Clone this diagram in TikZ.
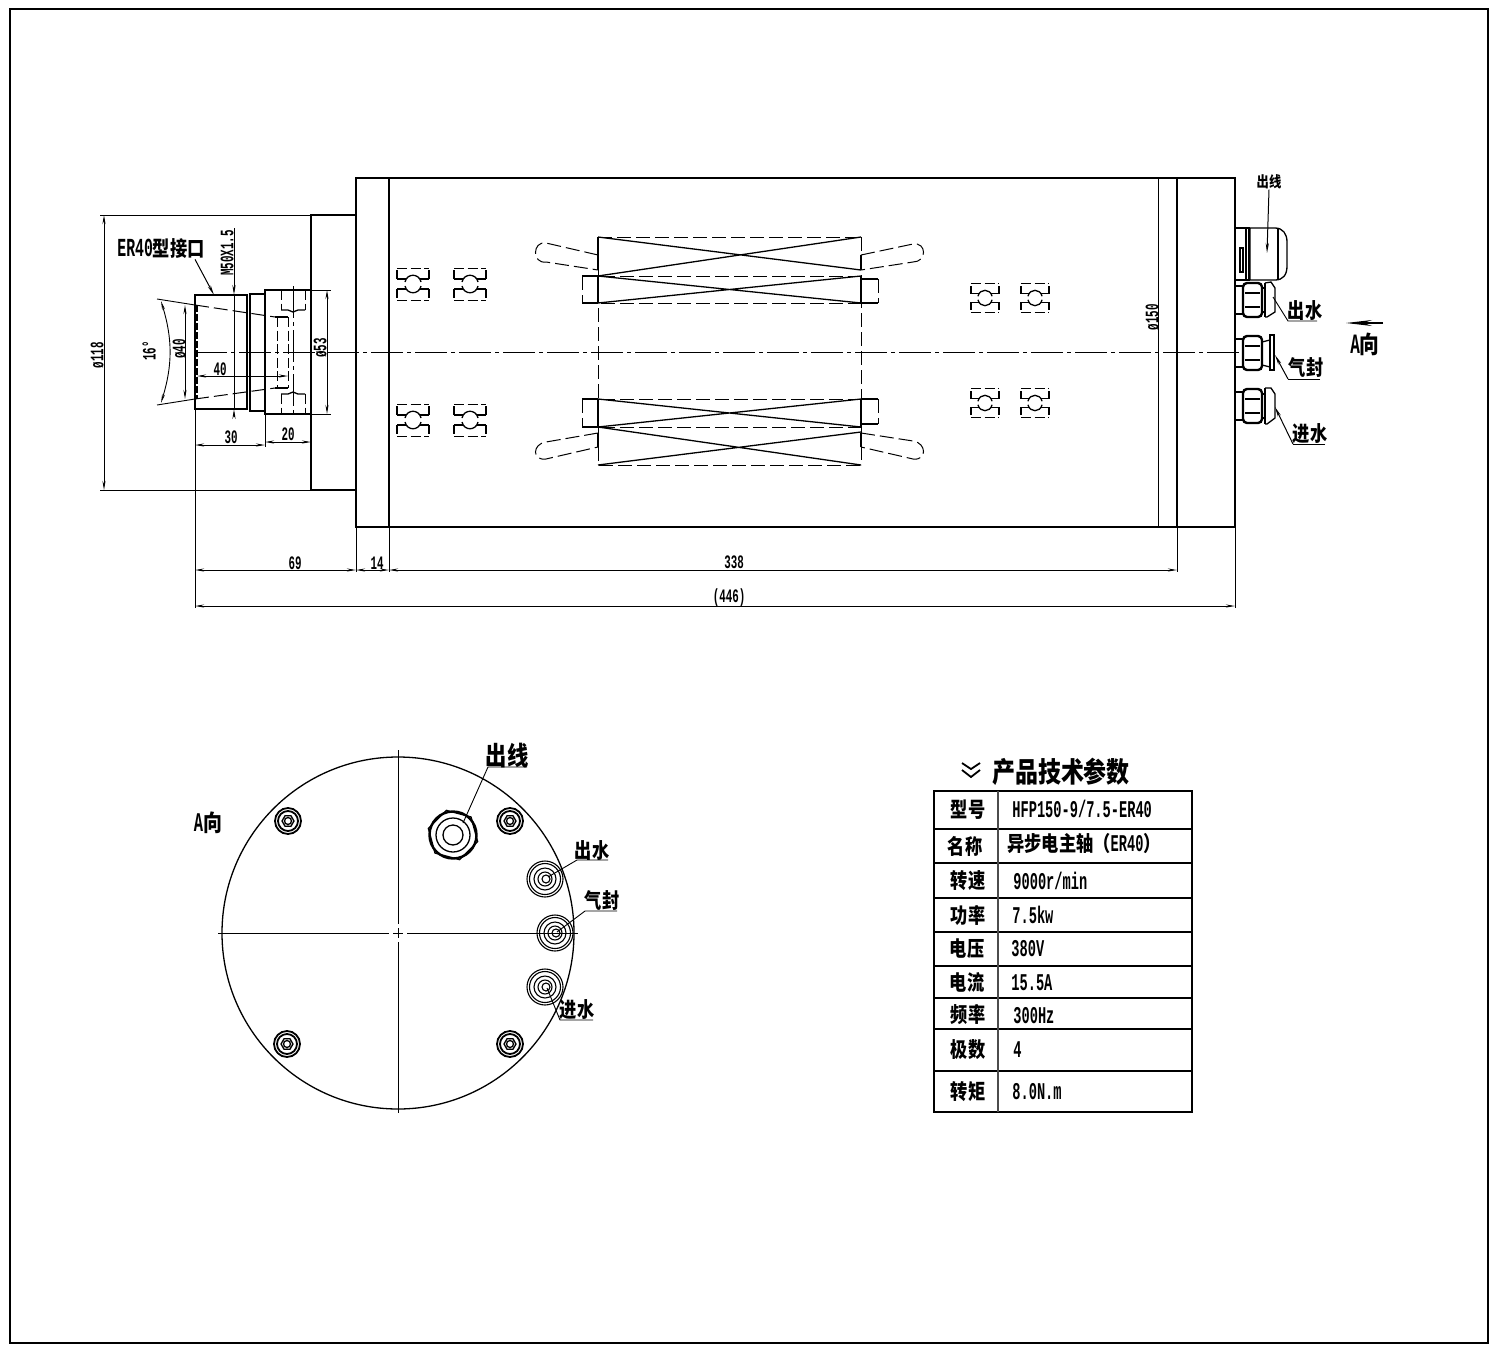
\documentclass[tikz,border=0pt]{standalone}
\usepackage{fontspec}
\usetikzlibrary{arrows.meta}
\newfontfamily\latinf[FakeStretch=0.57]{Liberation Mono}
\newfontfamily\cjk[FakeStretch=0.82]{Noto Sans CJK SC}
\def\dimfont{\latinf\bfseries\fontsize{9.5}{10}\selectfont}
\def\tabfont{\latinf\bfseries\fontsize{12}{13}\selectfont}
\def\zhfont{\cjk\bfseries\fontsize{10.5}{11}\selectfont}
\tikzset{
  part/.style={line width=0.65pt},
  heavy/.style={line width=1.2pt},
  thin line/.style={line width=0.45pt},
  hidden/.style={line width=0.5pt,dash pattern=on 7pt off 2.5pt},
  shorthidden/.style={line width=0.5pt,dash pattern=on 5pt off 1.8pt},
  centre/.style={line width=0.5pt,dash pattern=on 16pt off 2pt on 2pt off 2pt},
  dim/.style={line width=0.45pt,{Stealth[length=4.5pt,width=1.5pt]}-{Stealth[length=4.5pt,width=1.5pt]}},
  leader/.style={line width=0.5pt,-{Stealth[length=5pt,width=1.6pt]}},
  lab/.style={inner sep=0pt,font=\dimfont},
  zh/.style={inner sep=0pt,font=\zhfont},
  tabtxt/.style={inner sep=0pt,font=\tabfont,anchor=west},
}
% bearing symbol
\newcommand{\bearing}[3]{
\draw[shorthidden,shift={(#1,#2)},scale=#3] (-16,-16) -- (16,-16) (-16,16) -- (16,16);
\draw[part,shift={(#1,#2)},scale=#3] (-16,-5) -- (-16,-14) (16,-5) -- (16,-14) (-16,5) -- (-16,14) (16,5) -- (16,14);
\draw[part,shift={(#1,#2)},scale=#3] (-16,-5) -- (-7,-5) (7,-5) -- (16,-5) (-16,5) -- (-7,5) (7,5) -- (16,5);
\draw[part,shift={(#1,#2)},scale=#3] (-8,-2) .. controls (-6,-11) and (6,-11) .. (8,-2) (-8,2) .. controls (-6,11) and (6,11) .. (8,2);
}
% hex bolt on the end cover
\newcommand{\bolt}[2]{
\draw[line width=0.9pt,shift={(#1,#2)}] (0,0) circle (13) (0,0) circle (10);
\draw[part,shift={(#1,#2)}] (0:6) -- (60:6) -- (120:6) -- (180:6) -- (240:6) -- (300:6) -- cycle (0,0) circle (3.5);
}
% port on the end cover
\newcommand{\port}[2]{
\draw[line width=0.55pt,shift={(#1,#2)}] (0,0) circle (18) (0,0) circle (15.5) (0,0) circle (11) (0,0) circle (7) (1,0) circle (4);
}
% water or air fitting, side view
\newcommand{\fitting}[1]{
\draw[part,shift={(1235,#1)}] (0,-14) rectangle (8,14);
\draw[heavy,shift={(1235,#1)},rounded corners=2] (8,-17) rectangle (27,17);
\draw[part,shift={(1235,#1)}] (10,-7) -- (25,-7) (10,7) -- (25,7);
}
\begin{document}
\begin{tikzpicture}[x=0.5pt,y=-0.5pt]
\useasboundingbox (0,0) rectangle (1500,1355);

\draw[line width=1pt] (10,9) rectangle (1488,1343);

% side view
\draw[part] (356,178) rectangle (1235,527);
\draw[part] (389,178) -- (389,527);
\draw[thin line] (1158,178) -- (1158,527);
\draw[part] (1177,178) -- (1177,527);
\draw[part] (356,215) -- (311,215) -- (311,490) -- (356,490);
\draw[centre] (195,352.5) -- (1243,352.5);

% nose
\draw[part] (311,290) -- (265,290) -- (265,414) -- (311,414);
\draw[part] (265,294) -- (250,294) -- (250,411) -- (265,411);
\draw[heavy] (195,295) rectangle (247,409);
\draw[line width=1pt,dash pattern=on 3.5pt off 1pt] (197,305) -- (197,399);
\draw[hidden] (195,305) -- (275,317);
\draw[hidden] (195,399) -- (275,388);
\draw[part] (275,317) -- (288,317) (275,388) -- (288,388);
\draw[shorthidden] (277,317) -- (277,388);
\draw[shorthidden] (288,317) -- (288,388);
\draw[centre] (293,286) -- (293,417);
\draw[shorthidden] (281,290) -- (281,310) (305,290) -- (305,310);
\draw[part] (281,310) -- (288,310) -- (293,312) -- (298,310) -- (305,310);
\draw[shorthidden] (281,394) -- (281,414) (305,394) -- (305,414);
\draw[part] (281,394) -- (288,394) -- (293,392) -- (298,394) -- (305,394);

% nose dimensions
\draw[thin line] (100,215) -- (311,215) (100,490) -- (311,490);
\coordinate (dTop) at (104,215);
\coordinate (dBot) at (104,490);
\draw[dim] (dTop) -- (dBot);
\node[lab,rotate=90] (d118) at (97,355) {ø118};
\draw[thin line] (157,299) -- (195,305) (157,405) -- (195,399);
\coordinate (angA) at (161,301);
\coordinate (angB) at (161,403);
\draw[dim] (angA) to[bend left=17] (angB);
\node[lab,rotate=90] (a16) at (149,351) {16°};
\coordinate (d40a) at (185,305);
\coordinate (d40b) at (185,399);
\draw[dim] (d40a) -- (d40b);
\node[lab,rotate=90] (d40) at (179,349) {ø40};
\coordinate (l40a) at (197,376);
\coordinate (l40b) at (288,376);
\draw[dim] (l40a) -- (l40b);
\node[lab] (l40) at (220,369) {40};
\draw[thin line] (311,290) -- (331,290) (311,414) -- (331,414);
\coordinate (d53a) at (327,290);
\coordinate (d53b) at (327,414);
\draw[dim] (d53a) -- (d53b);
\node[lab,rotate=90] (d53) at (320,348) {ø53};
\draw[thin line] (265,414) -- (265,447);
\coordinate (l30a) at (195,445);
\coordinate (l30b) at (265,445);
\coordinate (l20a) at (265,442);
\coordinate (l20b) at (311,442);
\draw[dim] (l30a) -- (l30b);
\draw[dim] (l20a) -- (l20b);
\node[lab] (l30) at (231,437) {30};
\node[lab] (l20) at (288,434) {20};
\coordinate (mTop) at (234,228);
\coordinate (mIn) at (234,295);
\coordinate (mBot) at (234,417);
\coordinate (mOut) at (234,409);
\draw[leader] (mTop) -- (mIn);
\draw[leader] (mBot) -- (mOut);
\draw[thin line] (mIn) -- (mOut);
\node[lab,rotate=90] (thread) at (227,253) {M50X1.5};
\node[inner sep=0pt] (erLabel) at (161,249) {{\latinf\bfseries\fontsize{13}{14}\selectfont ER40}{\zhfont 型接口}};
\coordinate (erEnd) at (214,295);
\draw[leader] (erLabel.south east) ++(-10,0) -- (erEnd);

% overall dimensions
\draw[thin line] (195,409) -- (195,608);
\draw[thin line] (356,527) -- (356,572) (389,527) -- (389,572) (1177,527) -- (1177,572);
\draw[thin line] (1235,527) -- (1235,608);
\coordinate (o0) at (195,570);
\coordinate (o1) at (356,570);
\coordinate (o2) at (389,570);
\coordinate (o3) at (1177,570);
\coordinate (p0) at (195,606);
\coordinate (p1) at (1235,606);
\draw[dim] (o0) -- (o1);
\draw[dim] (o1) -- (o2);
\draw[dim] (o2) -- (o3);
\draw[dim] (p0) -- (p1);
\node[lab] (l69) at (295,563) {69};
\node[lab] (l14) at (377,563) {14};
\node[lab] (l338) at (734,562) {338};
\node[lab] (l446) at (729,598) {(446)};
\node[lab,rotate=90] (d150) at (1152,317) {ø150};

% bearings
\bearing{413}{284}{1}
\bearing{470}{284}{1}
\bearing{413}{420}{1}
\bearing{470}{420}{1}
\bearing{985}{298}{0.88}
\bearing{1035}{298}{0.88}
\bearing{985}{403}{0.88}
\bearing{1035}{403}{0.88}

% stator and windings
\draw[hidden] (598,237) -- (861,237);
\draw[hidden] (598,270) -- (598,447) (861,237) -- (861,465);
\draw[hidden] (598,447) -- (598,465) -- (861,465);
\draw[part] (598,237) -- (598,255);
\draw[part] (598,237) -- (861,270) (861,237) -- (598,276);
\draw[part] (598,427) -- (861,465) (861,432) -- (598,465);
\draw[part] (598,276) -- (861,303) (861,276) -- (598,303);
\draw[part] (598,399) -- (861,427) (861,399) -- (598,427);
\draw[hidden] (582,276) -- (861,276) (582,303) -- (861,303);
\draw[hidden] (582,399) -- (861,399) (582,427) -- (861,427);
\draw[part] (582,276) -- (598,276) (582,303) -- (598,303) (582,399) -- (598,399) (582,427) -- (598,427);
\draw[hidden] (582,276) -- (582,303) (582,399) -- (582,427);
\draw[part] (861,279) -- (878,279) (861,303) -- (878,303) (861,399) -- (878,399) (861,424) -- (878,424);
\draw[hidden] (878,279) -- (878,303) (878,399) -- (878,424);
\draw[line width=1pt] (598,276) -- (598,303) (861,276) -- (861,303) (598,399) -- (598,427) (861,399) -- (861,427);
\draw[part] (598,255) -- (598,270) (861,255) -- (861,270) (598,433) -- (598,447) (861,433) -- (861,447);
\draw[hidden] (598,255) -- (546,243) .. controls (532,241) and (532,264) .. (546,262) -- (598,270);
\draw[hidden] (861,255) -- (913,244) .. controls (927,242) and (927,262) .. (913,262) -- (861,270);
\draw[hidden] (598,433) -- (546,442) .. controls (532,444) and (532,461) .. (546,459) -- (598,447);
\draw[hidden] (861,433) -- (913,441) .. controls (927,443) and (927,461) .. (913,459) -- (861,447);

% cable gland and fittings
\draw[part] (1235,228) rectangle (1246,280);
\draw[part] (1246,228) -- (1249,228) -- (1249,280) -- (1246,280);
\draw[line width=1.1pt] (1240,248) rectangle (1243,272);
\draw[part] (1250,228) -- (1275,228) .. controls (1283,228) and (1287,234) .. (1287,242) -- (1287,266) .. controls (1287,275) and (1283,280) .. (1275,280) -- (1250,280) -- cycle;
\draw[line width=1.1pt] (1278,229) -- (1278,279);
\fitting{300}
\fitting{353}
\fitting{406}
\draw[line width=1pt] (1265,283) -- (1265,317);
\draw[part] (1265,283) -- (1271,282) -- (1275,288) -- (1275,312) -- (1267,317) -- (1265,317);
\draw[part] (1262,288) -- (1265,288) (1262,312) -- (1265,312);
\draw[part] (1262,342) -- (1270,340) -- (1270,367) -- (1262,365);
\draw[part] (1270,335) rectangle (1274,370);
\draw[line width=1pt] (1265,388) -- (1265,424);
\draw[part] (1265,388) -- (1271,388) -- (1275,394) -- (1275,418) -- (1267,424) -- (1265,424);
\draw[part] (1262,394) -- (1265,394) (1262,418) -- (1265,418);

% right hand labels
\node[zh,font=\cjk\bfseries\fontsize{7.5}{8}\selectfont] (glandLabel) at (1269,182) {出线};
\coordinate (glandEnd) at (1267,253);
\draw[leader] (glandLabel.south) -- (glandEnd);
\node[zh] (outLabel) at (1305,311) {出水};
\coordinate (outA) at (1317,321);
\coordinate (outB) at (1288,321);
\coordinate (outC) at (1273,297);
\draw[thin line] (outA) -- (outB) -- (outC);
\node[zh] (sealLabel) at (1306,368) {气封};
\coordinate (sealA) at (1320,379);
\coordinate (sealB) at (1288,379);
\coordinate (sealC) at (1275,355);
\draw[thin line] (sealA) -- (sealB);
\draw[leader] (sealB) -- (sealC);
\node[zh] (inLabel) at (1310,434) {进水};
\coordinate (inA) at (1325,444);
\coordinate (inB) at (1293,444);
\coordinate (inC) at (1275,407);
\draw[thin line] (inA) -- (inB);
\draw[leader] (inB) -- (inC);
\coordinate (viewA) at (1383,323);
\coordinate (viewB) at (1346,323);
\draw[line width=0.6pt,-{Stealth[length=13pt,width=3pt]}] (viewA) -- (viewB);
\node[inner sep=0pt] (viewLabel) at (1365,344) {{\latinf\bfseries\fontsize{14}{15}\selectfont A}{\zhfont\fontsize{12}{13}\selectfont 向}};

% end view
\draw[part] (398,933) circle (176);
\draw[thin line] (218,933) -- (389,933) (393,933) -- (403,933) (407,933) -- (578,933);
\draw[thin line] (398,750) -- (398,924) (398,928) -- (398,938) (398,942) -- (398,1113);
\bolt{288}{821}
\bolt{510}{821}
\bolt{287}{1044}
\bolt{510}{1044}
\draw[heavy] (453,835) circle (23.5);
\draw[part] (453,835) circle (17) (453,835) circle (10);
\draw[part,shift={(453,835)}] (15:25.5) -- (75:25.5) -- (135:25.5) -- (195:25.5) -- (255:25.5) -- (315:25.5) -- cycle;
\port{545}{879}
\port{555}{933}
\port{545}{987}
\node[inner sep=0pt] (viewLabel2) at (208,823) {{\latinf\bfseries\fontsize{13.5}{14}\selectfont A}{\zhfont\fontsize{11.5}{12}\selectfont 向}};
\node[zh,font=\cjk\bfseries\fontsize{13}{14}\selectfont] (glandLabel2) at (507,756) {出线};
\coordinate (g2a) at (527,767);
\coordinate (g2b) at (488,767);
\coordinate (g2c) at (463,823);
\draw[thin line] (g2a) -- (g2b) -- (g2c);
\node[zh] (outLabel2) at (592,851) {出水};
\coordinate (o2a) at (608,860);
\coordinate (o2b) at (577,860);
\coordinate (o2c) at (548,877);
\draw[thin line] (o2a) -- (o2b) -- (o2c);
\node[zh] (sealLabel2) at (602,900) {气封};
\coordinate (s2a) at (617,911);
\coordinate (s2b) at (585,911);
\coordinate (s2c) at (557,932);
\draw[thin line] (s2a) -- (s2b) -- (s2c);
\node[zh] (inLabel2) at (577,1010) {进水};
\coordinate (i2a) at (593,1020);
\coordinate (i2b) at (560,1020);
\coordinate (i2c) at (547,988);
\draw[thin line] (i2a) -- (i2b) -- (i2c);

% table
\node[inner sep=0pt,font=\cjk\bfseries\fontsize{14}{15}\selectfont] (tabTitle) at (1061,772) {产品技术参数};
\draw[line width=0.9pt] (962,763) -- (971,769) -- (980,763) (962,770) -- (971,777) -- (980,770);
\draw[line width=1pt] (934,791) rectangle (1192,1112);
\draw[line width=0.8pt] (934,829) -- (1192,829) (934,863) -- (1192,863) (934,898) -- (1192,898) (934,932) -- (1192,932) (934,966) -- (1192,966) (934,998) -- (1192,998) (934,1029) -- (1192,1029) (934,1071) -- (1192,1071);
\draw[part,black!70] (998,791) -- (998,1112);
\node[zh] (r1) at (968,810) {型号};
\node[zh] (r2) at (965,846) {名称};
\node[zh] (r3) at (968,881) {转速};
\node[zh] (r4) at (968,915) {功率};
\node[zh] (r5) at (967,949) {电压};
\node[zh] (r6) at (967,982) {电流};
\node[zh] (r7) at (968,1015) {频率};
\node[zh] (r8) at (968,1050) {极数};
\node[zh] (r9) at (968,1092) {转矩};
\node[tabtxt] (v1) at (1012,809) {HFP150-9/7.5-ER40};
\node[inner sep=0pt,anchor=west] (v2) at (1007,844) {{\zhfont 异步电主轴（}{\tabfont ER40}{\zhfont ）}};
\node[tabtxt] (v3) at (1013,881) {9000r/min};
\node[tabtxt] (v4) at (1012,915) {7.5kw};
\node[tabtxt] (v5) at (1011,949) {380V};
\node[tabtxt] (v6) at (1011,983) {15.5A};
\node[tabtxt] (v7) at (1013,1016) {300Hz};
\node[tabtxt] (v8) at (1013,1050) {4};
\node[tabtxt] (v9) at (1012,1092) {8.0N.m};

\end{tikzpicture}
\end{document}
